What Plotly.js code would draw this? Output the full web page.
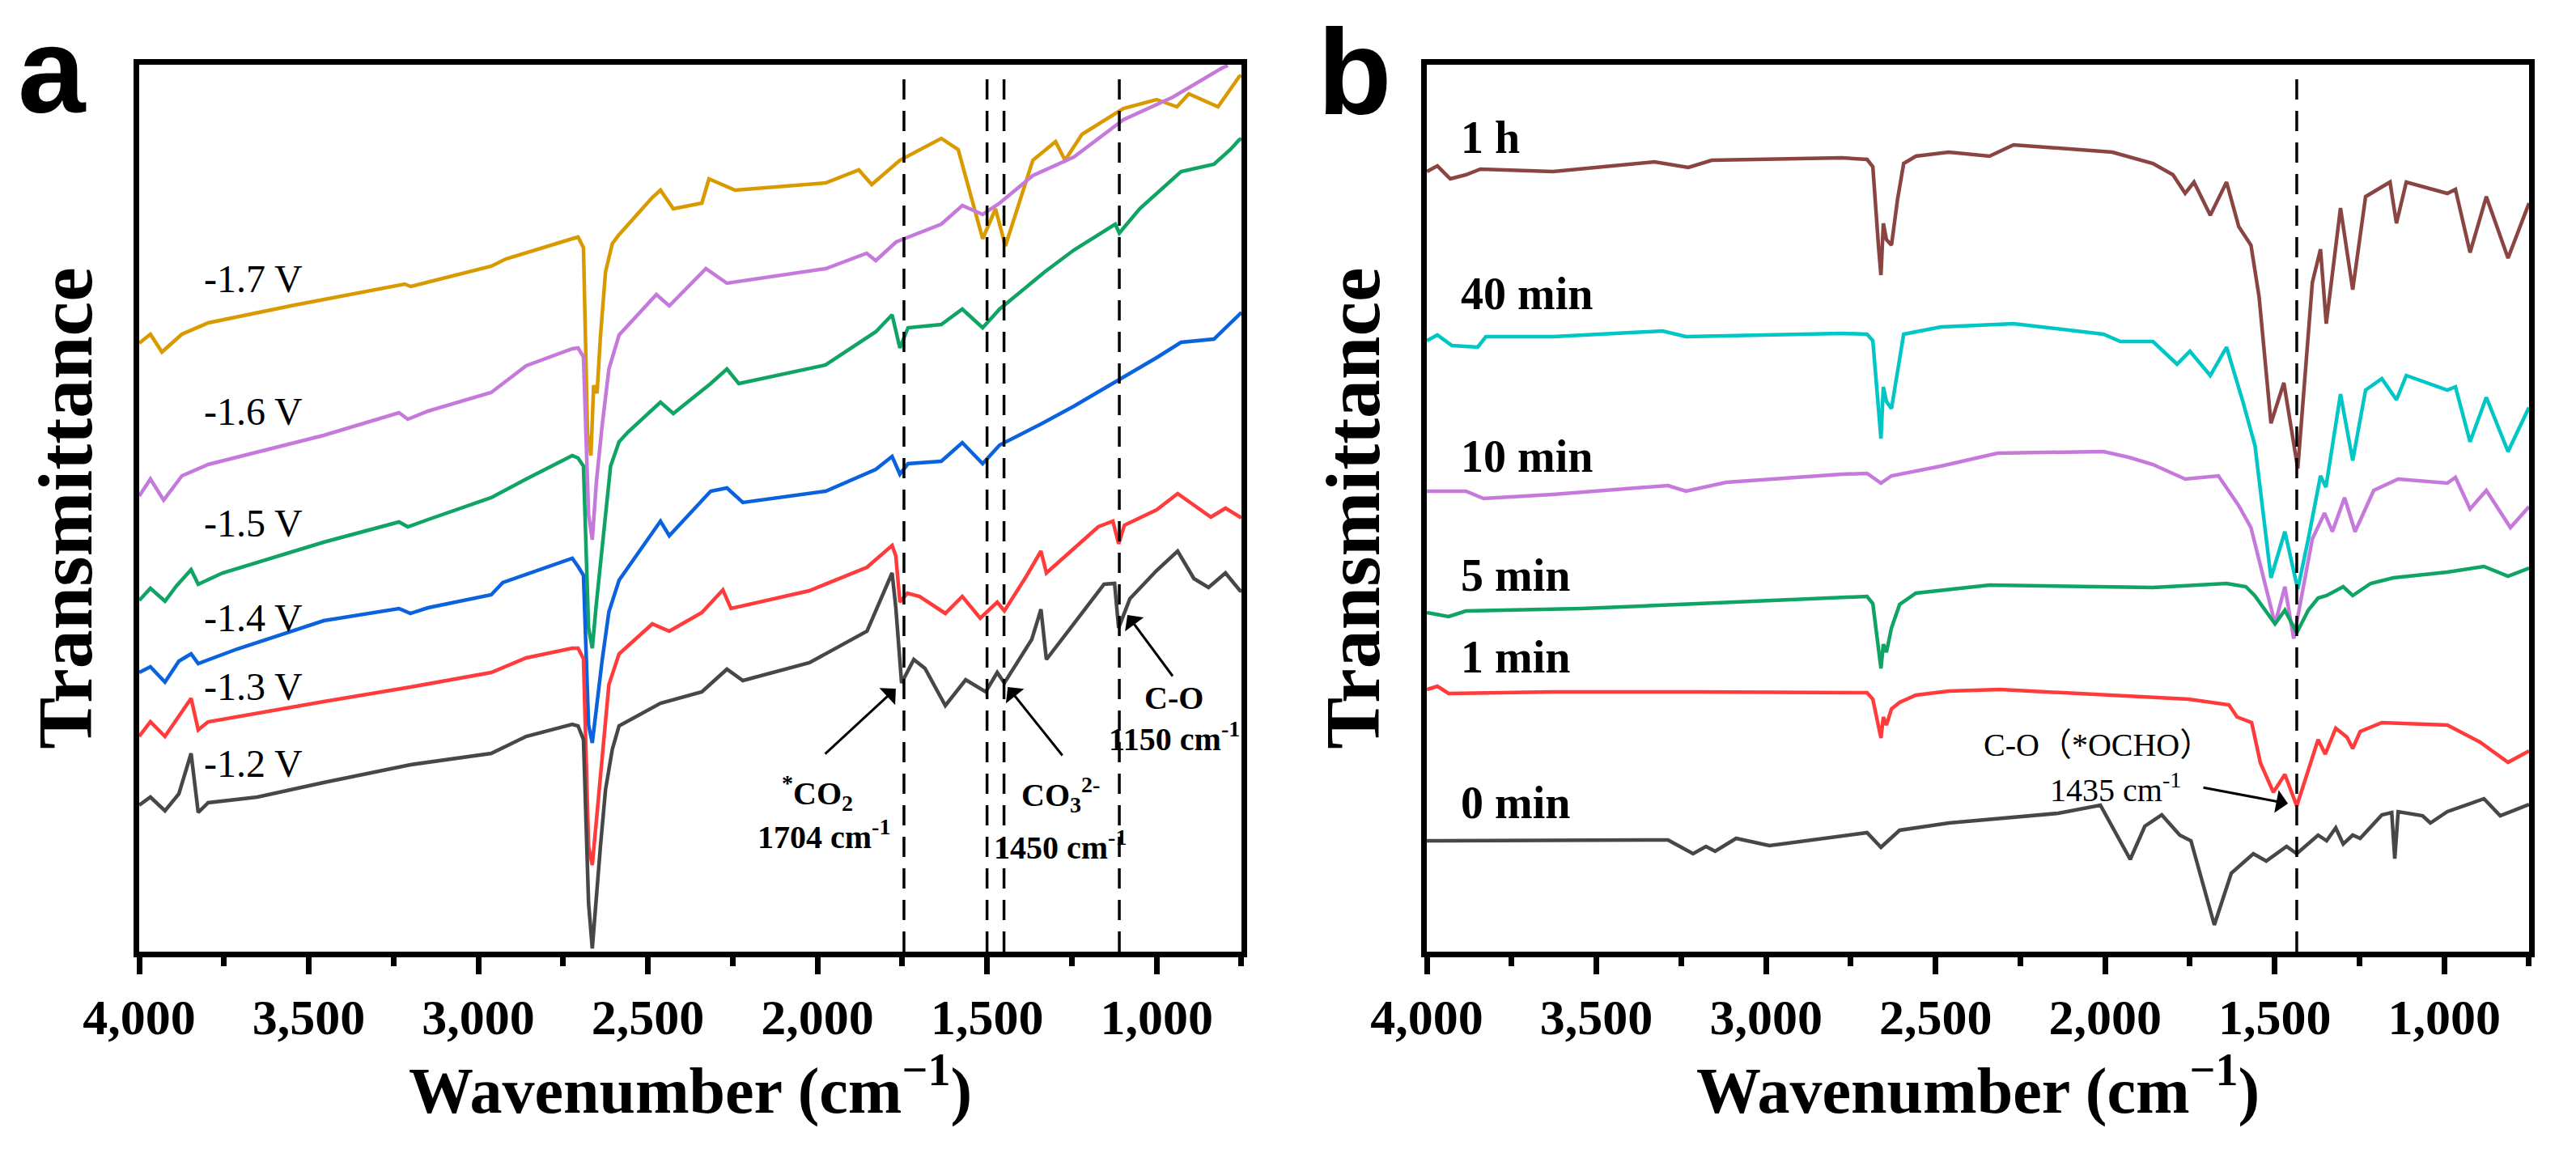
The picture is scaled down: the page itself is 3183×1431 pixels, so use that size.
<!DOCTYPE html>
<html>
<head>
<meta charset="utf-8">
<script src="https://cdn.plot.ly/plotly-3.0.1.min.js"></script>
<style>html,body{margin:0;padding:0;background:#fff;}#chart{width:3183px;height:1431px;}</style>
</head>
<body>
<div id="chart"></div>
<script>
// ---------- Panel a : potentials ----------
const wn_17V = [4000,3967,3933,3874,3797,3542,3217,3200,2962,2919,2723,2706,2690,2678,2668,2660,2650,2640,2625,2605,2585,2487,2463,2425,2341,2320,2243,1976,1878,1840,1757,1635,1585,1513,1475,1446,1365,1298,1270,1220,1098,1000,940,905,819,757,750];
const t_17V  = [752,763,741,763,777,799,825,822,847,856,881,883,870,640,613,700,690,760,840,875,886,932,941,918,925,955,941,950,966,948,978,1005,991,881,918,872,978,1001,978,1010,1042,1053,1044,1060,1044,1081,1083];

const wn_16V = [4000,3967,3928,3874,3797,3456,3234,3208,3148,2962,2859,2723,2706,2690,2675,2664,2652,2635,2615,2585,2475,2437,2329,2267,1976,1855,1828,1768,1635,1573,1513,1463,1365,1244,1098,952,807,790];
const t_16V  = [563,584,558,588,602,638,666,658,668,691,724,745,746,735,540,509,580,650,720,762,812,798,844,826,844,863,854,877,899,922,911,925,959,982,1028,1056,1092,1095];

const wn_15V = [4000,3967,3924,3890,3847,3826,3754,3456,3234,3208,3148,2962,2859,2723,2706,2690,2675,2664,2652,2635,2610,2585,2559,2463,2425,2315,2267,2232,1976,1828,1780,1757,1733,1635,1573,1513,1463,1330,1244,1122,1110,1050,928,831,783,757,750];
const t_15V  = [434,449,433,452,472,454,468,506,531,525,534,561,584,613,610,600,400,375,430,500,600,630,642,679,665,702,720,702,725,766,787,746,771,775,794,771,794,840,867,899,888,918,964,973,991,1003,1005];

const wn_14V = [4000,3967,3924,3883,3847,3826,3711,3456,3234,3200,3148,2962,2928,2723,2706,2690,2675,2664,2652,2635,2615,2585,2463,2437,2315,2267,2220,1976,1828,1780,1757,1733,1635,1573,1513,1463,1341,1244,1110,1000,928,831,757,750];
const t_14V  = [345,352,333,359,368,356,374,409,424,418,425,441,456,486,476,465,280,258,300,360,420,459,532,514,569,573,555,569,596,612,590,603,606,629,603,626,652,674,707,734,753,757,787,790];

const wn_13V = [4000,3967,3924,3883,3847,3826,3797,3456,3200,2962,2859,2723,2706,2690,2675,2664,2652,2635,2615,2585,2487,2437,2341,2279,2255,2024,1854,1780,1769,1757,1735,1699,1623,1573,1520,1470,1449,1384,1341,1325,1172,1129,1112,1095,1000,938,840,797,754,750];
const t_13V  = [266,284,266,291,313,274,284,309,327,345,363,375,375,362,130,107,160,240,330,368,405,396,419,447,424,446,475,502,489,432,443,439,418,439,412,432,421,464,495,468,525,532,504,527,546,566,537,548,537,538];

const wn_12V = [4000,3967,3924,3883,3847,3826,3797,3652,3456,3200,2962,2859,2723,2706,2690,2675,2664,2654,2640,2625,2605,2585,2463,2341,2267,2220,2024,1854,1780,1769,1752,1716,1683,1623,1563,1504,1470,1449,1368,1341,1325,1155,1124,1112,1079,1000,938,890,847,797,754,750];
const t_12V  = [181,191,174,195,245,172,184,191,209,231,245,266,281,279,262,60,4,60,130,200,250,279,307,321,349,335,357,396,468,425,332,361,350,304,336,321,345,332,386,423,361,454,455,400,436,471,495,461,450,468,446,446];

// ---------- Panel b : time ----------
const wn_1h = [4000,3969,3931,3885,3842,3628,3329,3229,3160,2776,2702,2685,2668,2661,2654,2645,2630,2612,2594,2558,2461,2341,2270,1979,1859,1800,1764,1738,1690,1642,1606,1570,1546,1511,1473,1432,1389,1365,1348,1306,1270,1232,1160,1141,1112,991,967,924,876,812,752,750];
const t_1h  = [964,971,955,960,967,964,976,969,978,981,979,970,870,836,900,880,873,930,974,983,988,983,997,988,974,960,937,951,910,951,896,873,809,653,703,597,827,868,776,919,818,933,951,900,951,937,942,864,933,857,923,925];

const wn_40m = [4000,3969,3926,3850,3826,3628,3305,3236,2776,2702,2685,2668,2661,2654,2645,2630,2612,2594,2484,2270,2005,1955,1859,1788,1750,1690,1642,1594,1558,1511,1470,1432,1401,1365,1349,1306,1270,1232,1184,1141,1112,991,967,924,876,812,752,750];
const t_40m  = [755,762,749,747,760,760,767,760,764,763,755,660,634,698,680,671,720,763,772,776,763,754,754,726,742,712,747,680,625,462,519,448,510,588,574,689,607,694,708,682,712,694,698,630,685,618,671,672];

const wn_10m = [4000,3885,3833,3628,3289,3236,3117,2776,2702,2661,2630,2484,2317,2005,1931,1859,1764,1666,1606,1570,1499,1470,1444,1389,1353,1330,1294,1263,1208,1136,991,967,924,876,805,752,750];
const t_10m  = [569,569,560,565,576,569,580,590,591,579,588,600,616,618,611,602,584,588,551,524,405,451,387,510,542,519,561,519,570,584,579,586,547,570,524,549,550];

const wn_5m = [4000,3936,3885,3544,3203,2726,2702,2685,2668,2661,2654,2645,2630,2606,2558,2341,1859,1642,1585,1559,1499,1470,1435,1401,1372,1347,1298,1270,1217,1150,991,883,812,752,750];
const t_5m  = [419,414,421,424,430,438,439,430,370,350,380,370,400,429,443,453,450,455,451,440,405,422,394,422,437,440,451,440,455,462,469,476,464,474,474];

const wn_1m = [4000,3969,3936,3628,3203,2726,2702,2685,2668,2661,2654,2645,2630,2606,2558,2461,2310,1969,1754,1635,1611,1568,1542,1504,1470,1435,1406,1372,1351,1320,1287,1270,1248,1184,991,895,812,752,750];
const t_1m  = [324,328,319,321,321,319,320,312,275,264,290,280,300,308,317,322,324,317,312,305,290,283,233,197,219,180,219,262,244,276,265,251,272,283,280,259,234,248,248];

const wn_0m = [4000,3544,3289,3215,3177,3150,3088,2990,2726,2702,2661,2606,2461,2138,2014,1969,1926,1883,1833,1780,1747,1678,1628,1563,1525,1465,1435,1372,1347,1320,1298,1270,1248,1184,1155,1146,1136,1064,1041,991,883,835,752,750];
const t_0m  = [137,137,138,121,130,124,140,131,146,147,129,150,159,171,181,147,114,155,169,144,137,33,97,121,112,130,121,144,137,153,133,144,140,169,172,115,173,168,159,173,189,168,182,182];

// ---------- labels / axes ----------
const labelsA = ["-1.7 V","-1.6 V","-1.5 V","-1.4 V","-1.3 V","-1.2 V"];
const labelYA = [832,668,530,413,328,233];
const labelsB = ["1 h","40 min","10 min","5 min","1 min","0 min"];
const labelYB = [1006,813,612,465,364,184];
const tickVals = [4000,3500,3000,2500,2000,1500,1000];
const tickText = ["4,000","3,500","3,000","2,500","2,000","1,500","1,000"];
const minorVals = [3750,3250,2750,2250,1750,1250,750];
const dashedA = [1745,1500,1450,1110];
const dashedB = [1435];

const colorsA = ["#D99A00","#C57ADB","#0FA463","#0A62DC","#FF3B3B","#474747"];
const colorsB = ["#8A4542","#00C6C6","#C57ADB","#0FA463","#FF3B3B","#474747"];

const serif = "Liberation Serif, Times New Roman, serif";
const seriesA = [[wn_17V,t_17V],[wn_16V,t_16V],[wn_15V,t_15V],[wn_14V,t_14V],[wn_13V,t_13V],[wn_12V,t_12V]];
const seriesB = [[wn_1h,t_1h],[wn_40m,t_40m],[wn_10m,t_10m],[wn_5m,t_5m],[wn_1m,t_1m],[wn_0m,t_0m]];

const traces = [];
seriesA.forEach((s,i)=>traces.push({x:s[0],y:s[1],type:'scatter',mode:'lines',name:labelsA[i],
  line:{color:colorsA[i],width:4.5},xaxis:'x',yaxis:'y',hoverinfo:'skip'}));
seriesB.forEach((s,i)=>traces.push({x:s[0],y:s[1],type:'scatter',mode:'lines',name:labelsB[i],
  line:{color:colorsB[i],width:4.5},xaxis:'x2',yaxis:'y2',hoverinfo:'skip'}));

function xAxis(domain, anchor){
  return {domain:domain, anchor:anchor, range:[4000,750], showgrid:false, zeroline:false,
    showline:true, mirror:true, linewidth:7, linecolor:'#000',
    ticks:'outside', ticklen:21, tickwidth:7, tickcolor:'#000',
    tickmode:'array', tickvals:tickVals, ticktext:tickText,
    tickfont:{family:serif, size:62, weight:'bold', color:'#000'},
    minor:{ticks:'outside', ticklen:11, tickwidth:7, tickcolor:'#000', tickvals:minorVals},
    title:{text:'Wavenumber (cm<sup>−1</sup>)', font:{family:serif, size:80, weight:'bold', color:'#000'}, standoff:20},
    automargin:false};
}
function yAxis(anchor){
  return {domain:[0,1], anchor:anchor, range:[0,1096], showgrid:false, zeroline:false,
    showline:true, mirror:true, linewidth:7, linecolor:'#000', ticks:'', showticklabels:false,
    title:{text:'Transmittance', font:{family:serif, size:96, weight:'bold', color:'#000'}, standoff:22},
    automargin:false};
}

const shapes = [];
dashedA.forEach(w=>shapes.push({type:'line',xref:'x',yref:'y',x0:w,x1:w,y0:0,y1:1083,
  line:{color:'#000',width:3.5,dash:'25px,14px'}}));
dashedB.forEach(w=>shapes.push({type:'line',xref:'x2',yref:'y2',x0:w,x1:w,y0:0,y1:1086,
  line:{color:'#000',width:3.5,dash:'25px,14px'}}));

const annotations = [];
labelsA.forEach((t,i)=>annotations.push({xref:'x',yref:'y',x:3814,y:labelYA[i],text:t,showarrow:false,
  xanchor:'left',yanchor:'middle',font:{family:serif,size:48,color:'#000'}}));
labelsB.forEach((t,i)=>annotations.push({xref:'x2',yref:'y2',x:3905,y:labelYB[i],text:t,showarrow:false,
  xanchor:'left',yanchor:'middle',font:{family:serif,size:56,weight:'bold',color:'#000'}}));

const annFont = {family:serif,size:40,weight:'bold',color:'#000'};
// panel a peak notes
annotations.push({xref:'x',yref:'y',x:2000,y:196,text:'<sup>*</sup>CO<sub>2</sub>',showarrow:false,font:annFont});
annotations.push({xref:'x',yref:'y',x:1981,y:145,text:'1704 cm<sup>-1</sup>',showarrow:false,font:annFont});
annotations.push({xref:'x',yref:'y',x:1284,y:194,text:'CO<sub>3</sub><sup>2-</sup>',showarrow:false,font:annFont});
annotations.push({xref:'x',yref:'y',x:1284,y:132,text:'1450 cm<sup>-1</sup>',showarrow:false,font:annFont});
annotations.push({xref:'x',yref:'y',x:950,y:314,text:'C-O',showarrow:false,font:annFont});
annotations.push({xref:'x',yref:'y',x:948,y:266,text:'1150 cm<sup>-1</sup>',showarrow:false,font:annFont});
const arrowStyle = {showarrow:true,arrowhead:1,arrowsize:1.6,arrowwidth:3,arrowcolor:'#000',text:''};
annotations.push(Object.assign({xref:'x',yref:'y',axref:'x',ayref:'y',x:1769,y:325,ax:1981,ay:243},arrowStyle));
annotations.push(Object.assign({xref:'x',yref:'y',axref:'x',ayref:'y',x:1439,y:327,ax:1275,ay:241},arrowStyle));
annotations.push(Object.assign({xref:'x',yref:'y',axref:'x',ayref:'y',x:1086,y:416,ax:950,ay:339},arrowStyle));
// panel b note
annotations.push({xref:'x2',yref:'y2',x:2022,y:256,text:'C-O（*OCHO）',showarrow:false,
  font:{family:serif+', Noto Sans CJK SC',size:40,color:'#000'}});
annotations.push({xref:'x2',yref:'y2',x:1969,y:203,text:'1435 cm<sup>-1</sup>',showarrow:false,
  font:{family:serif,size:40,color:'#000'}});
annotations.push(Object.assign({xref:'x2',yref:'y2',axref:'x2',ayref:'y2',x:1461,y:183,ax:1714,ay:203},arrowStyle));
// panel letters
annotations.push({xref:'paper',yref:'paper',x:-0.0515,y:1.072,xanchor:'left',yanchor:'top',text:'a',showarrow:false,
  font:{family:'Liberation Sans, Arial, sans-serif',size:150,weight:'bold',color:'#000'}});
annotations.push({xref:'paper',yref:'paper',x:0.4925,y:1.070,xanchor:'left',yanchor:'top',text:'b',showarrow:false,
  font:{family:'Liberation Sans, Arial, sans-serif',size:150,weight:'bold',color:'#000'}});

const layout = {
  width:3183, height:1431,
  margin:{l:172, r:58, t:80, b:255},
  paper_bgcolor:'#fff', plot_bgcolor:'#fff',
  showlegend:false,
  xaxis:xAxis([0,0.4612],'y'),
  yaxis:yAxis('x'),
  xaxis2:xAxis([0.5388,1],'y2'),
  yaxis2:yAxis('x2'),
  shapes:shapes,
  annotations:annotations
};

Plotly.newPlot('chart', traces, layout, {staticPlot:true, displayModeBar:false});
</script>
</body>
</html>
